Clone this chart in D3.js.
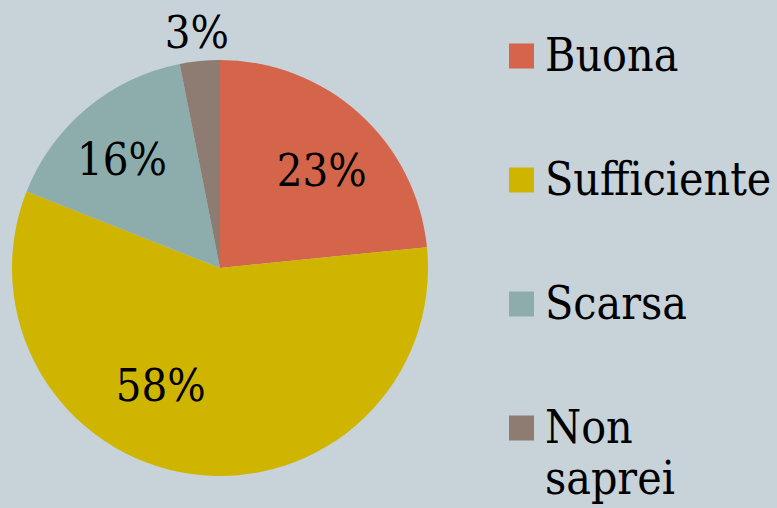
<!DOCTYPE html>
<html><head><meta charset="utf-8">
<script src="https://cdn.jsdelivr.net/npm/d3@7"></script>
<style>html,body{margin:0;padding:0;background:#C7D2D9;}svg{display:block;}</style>
</head><body>
<svg id="c" width="777" height="508"></svg>
<script>
const categories = ["Buona", "Sufficiente", "Scarsa", "Non saprei"];
const values = [23.4, 57.6, 15.9, 3.1];
const colors = ["#D4654A", "#CFB500", "#8DADAD", "#8E7B71"];
const legendLines = [["Buona"], ["Sufficiente"], ["Scarsa"], ["Non", "saprei"]];

// layout (not data)
const cx = 220, cy = 268, R = 208;
const labelRadius = [141, 131, 147, 237];
const labelAngleShift = [4, 19, -2, 0]; // degrees
const font = "'DejaVu Serif Condensed', 'DejaVu Serif'";

const svg = d3.select("#c");
svg.append("rect").attr("width", 777).attr("height", 508).attr("fill", "#C7D2D9");

const data = categories.map((c, i) => ({cat: c, value: values[i], i}));
const pie = d3.pie().value(d => d.value).sort(null);
const arcs = pie(data);
const arc = d3.arc().innerRadius(0).outerRadius(R);
const color = d3.scaleOrdinal().domain(categories).range(colors);

const g = svg.append("g").attr("transform", `translate(${cx},${cy})`);
g.selectAll("path").data(arcs).join("path")
  .attr("d", arc)
  .attr("fill", d => color(d.data.cat));

const total = d3.sum(values);
g.selectAll("text.lbl").data(arcs).join("text")
  .attr("class", "lbl")
  .attr("transform", d => {
    const a = (d.startAngle + d.endAngle) / 2 + labelAngleShift[d.data.i] * Math.PI / 180;
    const r = labelRadius[d.data.i];
    return `translate(${r * Math.sin(a)},${-r * Math.cos(a)})`;
  })
  .attr("text-anchor", "middle")
  .attr("dy", "0.36em")
  .style("font-family", font)
  .style("font-stretch", "condensed")
  .style("font-size", "45px")
  .attr("fill", "#000")
  .text(d => Math.round(d.data.value / total * 100) + "%");

// legend
const ly = d3.scalePoint().domain(categories).range([56, 428]);
const leg = svg.append("g");
const items = leg.selectAll("g").data(categories).join("g")
  .attr("transform", d => `translate(509,${ly(d)})`);
items.append("rect").attr("x", 0).attr("y", -12.5).attr("width", 25).attr("height", 25)
  .attr("fill", d => color(d));
items.each(function(d, i) {
  const t = d3.select(this).append("text")
    .attr("x", 36).attr("y", 15)
    .style("font-family", font).style("font-stretch", "condensed")
    .style("font-size", "46px").attr("fill", "#000");
  legendLines[i].forEach((ln, k) => {
    t.append("tspan").attr("x", 36).attr("dy", k === 0 ? 0 : 51).text(ln);
  });
});
</script>
</body></html>
